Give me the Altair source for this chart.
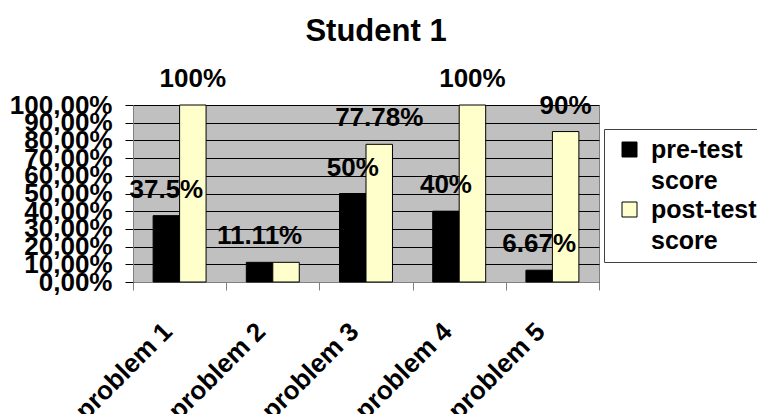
import altair as alt
import pandas as pd

problems = ["problem 1", "problem 2", "problem 3", "problem 4", "problem 5"]
series = ["pre-test score", "post-test score"]
pre_values = [37.5, 11.11, 50, 40, 6.67]
post_values = [100, 11.11, 77.78, 100, 85]
pre_labels = ["37.5%", "11.11%", "50%", "40%", "6.67%"]
post_labels = ["100%", "", "77.78%", "100%", "90%"]
y_ticks = [0, 10, 20, 30, 40, 50, 60, 70, 80, 90, 100]
colors = ["#000000", "#FFFFCC"]

rows = []
for i, p in enumerate(problems):
    rows.append(dict(problem=p, series=series[0], value=pre_values[i], label=pre_labels[i]))
    rows.append(dict(problem=p, series=series[1], value=post_values[i], label=post_labels[i]))
df = pd.DataFrame(rows)

FONT = "Liberation Sans"

x = alt.X(
    "problem:N", sort=problems,
    scale=alt.Scale(paddingInner=0, paddingOuter=0),
    axis=alt.Axis(
        title=None, labelAngle=-45, labelAlign="right", labelBaseline="middle",
        labelFont=FONT, labelFontSize=26, labelFontWeight="bold", labelColor="black",
        labelOffset=-12, labelPadding=37, tickBand="extent", tickSize=8,
        tickColor="#808080", domainColor="#808080", grid=False, labelLimit=400,
    ),
)
xo = alt.XOffset("series:N", sort=series, scale=alt.Scale(paddingInner=0, paddingOuter=0.76))
y = alt.Y(
    "value:Q",
    scale=alt.Scale(domain=[0, 100], nice=False),
    axis=alt.Axis(
        title=None, values=y_ticks,
        labelExpr="replace(format(datum.value, '.2f'), '.', ',') + '%'",
        labelOverlap=False, labelFont=FONT, labelFontSize=26, labelFontWeight="bold",
        labelColor="black", tickSize=8, labelPadding=13, grid=True, gridColor="black",
        gridOpacity=1, tickColor="black", domainColor="#808080", labelFlush=False,
    ),
)
color = alt.Color(
    "series:N", sort=series,
    scale=alt.Scale(domain=series, range=colors),
    legend=alt.Legend(
        title=None, orient="none", legendX=471, legendY=24,
        symbolType="square", symbolSize=225, symbolStrokeColor="black",
        symbolStrokeWidth=1, symbolOffset=5, labelFont=FONT, labelFontSize=25,
        labelFontWeight="bold", labelColor="black", labelExpr="split(datum.label, ' ')",
        labelLimit=400, strokeColor="#404040", fillColor="white", padding=8,
        labelOffset=9, rowPadding=3,
    ),
)

bars = alt.Chart(df).mark_bar(stroke="black", strokeWidth=1).encode(x=x, xOffset=xo, y=y, color=color)
texts = alt.Chart(df).mark_text(
    dy=-26, font=FONT, fontSize=26, fontWeight="bold", color="black", baseline="middle"
).encode(x=x, xOffset=xo, y=y, text="label:N")

chart = alt.layer(bars, texts).properties(
    width=466, height=177,
    title=alt.TitleParams("Student 1", font=FONT, fontSize=31, fontWeight="bold",
                          color="black", anchor="middle", frame="group", dx=10, offset=18),
    padding={"left": 133, "top": 105, "right": 158, "bottom": 132},
    autosize=alt.AutoSizeParams(type="none"),
).configure(
    style={"guide-label": {"lineHeight": 31}}
).configure_view(fill="#C0C0C0", stroke="#808080")

chart.save("out.html", embed_options={"renderer": "svg", "actions": False})
